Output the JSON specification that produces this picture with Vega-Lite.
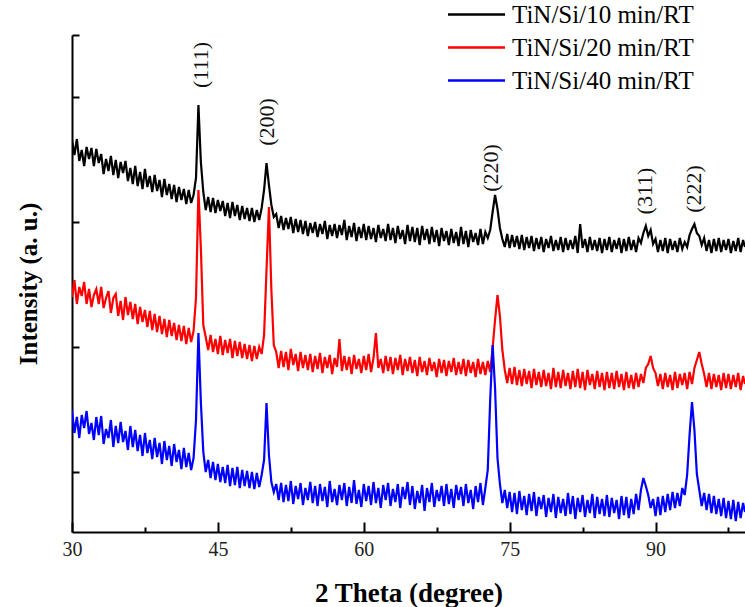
{
  "$schema": "https://vega.github.io/schema/vega-lite/v6.json",
  "width": 673,
  "height": 497,
  "autosize": {"type": "none"},
  "padding": {"left": 72, "top": 35, "right": 0, "bottom": 75},
  "background": "white",
  "config": {"view": {"stroke": null}, "font": "Liberation Serif"},
  "datasets": {
    "xrd": [
      {"x":30,"a":390,"b":233,"c":120},{"x":30.25,"a":375,"b":250,"c":97},{"x":30.5,"a":391,"b":226,"c":113},{"x":30.75,"a":369,"b":243,"c":92},
      {"x":31,"a":380,"b":234,"c":115},{"x":31.25,"a":364,"b":248,"c":102},{"x":31.5,"a":383,"b":226,"c":119},{"x":31.75,"a":371,"b":241,"c":96},
      {"x":32,"a":382,"b":223,"c":107},{"x":32.25,"a":364,"b":235,"c":90},{"x":32.5,"a":381,"b":241,"c":113},{"x":32.75,"a":367,"b":226,"c":95},
      {"x":33,"a":376,"b":243,"c":114},{"x":33.25,"a":356,"b":222,"c":86},{"x":33.5,"a":371,"b":232,"c":101},{"x":33.75,"a":359,"b":239,"c":92},
      {"x":34,"a":374,"b":217,"c":110},{"x":34.25,"a":355,"b":232,"c":83},{"x":34.5,"a":370,"b":236,"c":104},{"x":34.75,"a":352,"b":214,"c":87},
      {"x":35,"a":368,"b":229,"c":108},{"x":35.25,"a":357,"b":210,"c":88},{"x":35.5,"a":369,"b":233,"c":99},{"x":35.75,"a":349,"b":215,"c":80},
      {"x":36,"a":362,"b":228,"c":104},{"x":36.25,"a":346,"b":211,"c":83},{"x":36.5,"a":364,"b":226,"c":100},{"x":36.75,"a":344,"b":206,"c":79},
      {"x":37,"a":358,"b":223,"c":95},{"x":37.25,"a":341,"b":208,"c":74},{"x":37.5,"a":361,"b":220,"c":97},{"x":37.75,"a":343,"b":203,"c":77},
      {"x":38,"a":354,"b":219,"c":90},{"x":38.25,"a":338,"b":200,"c":71},{"x":38.5,"a":355,"b":216,"c":92},{"x":38.75,"a":339,"b":198,"c":73},
      {"x":39,"a":350,"b":214,"c":87},{"x":39.25,"a":333,"b":196,"c":66},{"x":39.5,"a":351,"b":211,"c":89},{"x":39.75,"a":335,"b":193,"c":70},
      {"x":40,"a":346,"b":210,"c":84},{"x":40.25,"a":331,"b":194,"c":64},{"x":40.5,"a":345,"b":207,"c":86},{"x":40.75,"a":328,"b":190,"c":68},
      {"x":41,"a":343,"b":205,"c":80},{"x":41.25,"a":330,"b":189,"c":61},{"x":41.5,"a":341,"b":204,"c":82},{"x":41.75,"a":326,"b":186,"c":63},
      {"x":42,"a":340,"b":202,"c":77},{"x":42.25,"a":327,"b":188,"c":60},{"x":42.5,"a":335,"b":199,"c":72},{"x":42.75,"a":352,"b":232,"c":110},
      {"x":43,"a":425,"b":340,"c":197},{"x":43.25,"a":368,"b":282,"c":128},{"x":43.5,"a":338,"b":205,"c":78},{"x":43.75,"a":320,"b":193,"c":58},
      {"x":44,"a":333,"b":180,"c":70},{"x":44.25,"a":318,"b":195,"c":52},{"x":44.5,"a":332,"b":178,"c":68},{"x":44.75,"a":317,"b":191,"c":50},
      {"x":45,"a":330,"b":176,"c":66},{"x":45.25,"a":319,"b":194,"c":48},{"x":45.5,"a":329,"b":175,"c":63},{"x":45.75,"a":314,"b":190,"c":47},
      {"x":46,"a":327,"b":177,"c":65},{"x":46.25,"a":312,"b":191,"c":44},{"x":46.5,"a":328,"b":172,"c":62},{"x":46.75,"a":314,"b":189,"c":45},
      {"x":47,"a":325,"b":174,"c":63},{"x":47.25,"a":310,"b":188,"c":42},{"x":47.5,"a":324,"b":172,"c":60},{"x":47.75,"a":311,"b":186,"c":44},
      {"x":48,"a":322,"b":171,"c":59},{"x":48.25,"a":309,"b":185,"c":42},{"x":48.5,"a":322,"b":169,"c":58},{"x":48.75,"a":308,"b":184,"c":41},
      {"x":49,"a":320,"b":171,"c":57},{"x":49.25,"a":310,"b":183,"c":43},{"x":49.5,"a":322,"b":176,"c":55},{"x":49.75,"a":340,"b":195,"c":70},
      {"x":50,"a":367,"b":260,"c":127},{"x":50.25,"a":345,"b":323,"c":75},{"x":50.5,"a":325,"b":240,"c":48},{"x":50.75,"a":313,"b":185,"c":38},
      {"x":51,"a":316,"b":178,"c":46},{"x":51.25,"a":302,"b":162,"c":30},{"x":51.5,"a":314,"b":179,"c":47},{"x":51.75,"a":300,"b":163,"c":28},
      {"x":52,"a":312,"b":178,"c":45},{"x":52.25,"a":301,"b":160,"c":29},{"x":52.5,"a":313,"b":181,"c":49},{"x":52.75,"a":297,"b":165,"c":26},
      {"x":53,"a":311,"b":176,"c":44},{"x":53.25,"a":298,"b":159,"c":31},{"x":53.5,"a":310,"b":178,"c":47},{"x":53.75,"a":296,"b":162,"c":25},
      {"x":54,"a":309,"b":175,"c":42},{"x":54.25,"a":294,"b":160,"c":30},{"x":54.5,"a":307,"b":176,"c":48},{"x":54.75,"a":297,"b":158,"c":27},
      {"x":55,"a":308,"b":174,"c":44},{"x":55.25,"a":293,"b":161,"c":24},{"x":55.5,"a":306,"b":177,"c":46},{"x":55.75,"a":296,"b":157,"c":29},
      {"x":56,"a":309,"b":173,"c":43},{"x":56.25,"a":291,"b":162,"c":23},{"x":56.5,"a":305,"b":175,"c":49},{"x":56.75,"a":294,"b":156,"c":28},
      {"x":57,"a":306,"b":172,"c":41},{"x":57.25,"a":292,"b":163,"c":25},{"x":57.5,"a":305,"b":191,"c":45},{"x":57.75,"a":295,"b":159,"c":30},
      {"x":58,"a":310,"b":174,"c":47},{"x":58.25,"a":290,"b":160,"c":24},{"x":58.5,"a":304,"b":173,"c":43},{"x":58.75,"a":293,"b":156,"c":27},
      {"x":59,"a":307,"b":175,"c":50},{"x":59.25,"a":289,"b":161,"c":26},{"x":59.5,"a":303,"b":171,"c":40},{"x":59.75,"a":292,"b":157,"c":23},
      {"x":60,"a":306,"b":174,"c":46},{"x":60.25,"a":290,"b":160,"c":29},{"x":60.5,"a":304,"b":176,"c":44},{"x":60.75,"a":291,"b":158,"c":25},
      {"x":61,"a":302,"b":172,"c":48},{"x":61.25,"a":288,"b":197,"c":27},{"x":61.5,"a":305,"b":162,"c":42},{"x":61.75,"a":292,"b":171,"c":22},
      {"x":62,"a":301,"b":157,"c":45},{"x":62.25,"a":289,"b":174,"c":30},{"x":62.5,"a":306,"b":159,"c":47},{"x":62.75,"a":290,"b":173,"c":24},
      {"x":63,"a":302,"b":156,"c":41},{"x":63.25,"a":287,"b":172,"c":28},{"x":63.5,"a":304,"b":160,"c":46},{"x":63.75,"a":291,"b":175,"c":22},
      {"x":64,"a":300,"b":155,"c":43},{"x":64.25,"a":286,"b":171,"c":31},{"x":64.5,"a":305,"b":159,"c":48},{"x":64.75,"a":289,"b":173,"c":25},
      {"x":65,"a":303,"b":157,"c":44},{"x":65.25,"a":288,"b":170,"c":21},{"x":65.5,"a":302,"b":154,"c":39},{"x":65.75,"a":285,"b":173,"c":27},
      {"x":66,"a":304,"b":158,"c":45},{"x":66.25,"a":290,"b":169,"c":19},{"x":66.5,"a":301,"b":155,"c":42},{"x":66.75,"a":286,"b":172,"c":28},
      {"x":67,"a":303,"b":159,"c":47},{"x":67.25,"a":288,"b":168,"c":23},{"x":67.5,"a":300,"b":153,"c":40},{"x":67.75,"a":284,"b":171,"c":29},
      {"x":68,"a":302,"b":157,"c":44},{"x":68.25,"a":289,"b":170,"c":24},{"x":68.5,"a":299,"b":154,"c":46},{"x":68.75,"a":285,"b":169,"c":26},
      {"x":69,"a":301,"b":158,"c":41},{"x":69.25,"a":287,"b":172,"c":22},{"x":69.5,"a":298,"b":155,"c":45},{"x":69.75,"a":284,"b":168,"c":30},
      {"x":70,"a":303,"b":156,"c":43},{"x":70.25,"a":286,"b":171,"c":24},{"x":70.5,"a":299,"b":154,"c":46},{"x":70.75,"a":283,"b":170,"c":27},
      {"x":71,"a":300,"b":157,"c":40},{"x":71.25,"a":288,"b":168,"c":21},{"x":71.5,"a":297,"b":153,"c":44},{"x":71.75,"a":285,"b":171,"c":28},
      {"x":72,"a":301,"b":156,"c":47},{"x":72.25,"a":286,"b":168,"c":25},{"x":72.5,"a":298,"b":155,"c":42},{"x":72.75,"a":292,"b":169,"c":60},
      {"x":73,"a":300,"b":158,"c":130},{"x":73.25,"a":318,"b":182,"c":185},{"x":73.5,"a":335,"b":210,"c":142},{"x":73.75,"a":321,"b":235,"c":72},
      {"x":74,"a":302,"b":214,"c":46},{"x":74.25,"a":291,"b":180,"c":27},{"x":74.5,"a":283,"b":160,"c":40},{"x":74.75,"a":296,"b":147,"c":22},
      {"x":75,"a":282,"b":162,"c":38},{"x":75.25,"a":295,"b":146,"c":18},{"x":75.5,"a":283,"b":163,"c":37},{"x":75.75,"a":294,"b":145,"c":16},
      {"x":76,"a":281,"b":160,"c":39},{"x":76.25,"a":295,"b":144,"c":20},{"x":76.5,"a":280,"b":161,"c":34},{"x":76.75,"a":293,"b":146,"c":15},
      {"x":77,"a":282,"b":159,"c":36},{"x":77.25,"a":294,"b":142,"c":19},{"x":77.5,"a":279,"b":161,"c":38},{"x":77.75,"a":292,"b":145,"c":14},
      {"x":78,"a":281,"b":158,"c":33},{"x":78.25,"a":293,"b":143,"c":21},{"x":78.5,"a":278,"b":160,"c":35},{"x":78.75,"a":291,"b":144,"c":13},
      {"x":79,"a":282,"b":157,"c":32},{"x":79.25,"a":294,"b":141,"c":18},{"x":79.5,"a":279,"b":162,"c":36},{"x":79.75,"a":290,"b":143,"c":12},
      {"x":80,"a":280,"b":158,"c":33},{"x":80.25,"a":293,"b":142,"c":17},{"x":80.5,"a":278,"b":160,"c":31},{"x":80.75,"a":292,"b":144,"c":14},
      {"x":81,"a":280,"b":157,"c":37},{"x":81.25,"a":290,"b":141,"c":16},{"x":81.5,"a":281,"b":159,"c":34},{"x":81.75,"a":294,"b":143,"c":11},
      {"x":82,"a":277,"b":161,"c":32},{"x":82.25,"a":306,"b":142,"c":18},{"x":82.5,"a":282,"b":158,"c":35},{"x":82.75,"a":291,"b":140,"c":13},
      {"x":83,"a":278,"b":160,"c":30},{"x":83.25,"a":293,"b":145,"c":17},{"x":83.5,"a":280,"b":156,"c":36},{"x":83.75,"a":290,"b":141,"c":12},
      {"x":84,"a":279,"b":159,"c":33},{"x":84.25,"a":292,"b":143,"c":16},{"x":84.5,"a":277,"b":157,"c":31},{"x":84.75,"a":291,"b":140,"c":14},
      {"x":85,"a":280,"b":158,"c":35},{"x":85.25,"a":293,"b":142,"c":13},{"x":85.5,"a":278,"b":157,"c":32},{"x":85.75,"a":290,"b":141,"c":17},
      {"x":86,"a":281,"b":159,"c":30},{"x":86.25,"a":292,"b":143,"c":11},{"x":86.5,"a":277,"b":156,"c":34},{"x":86.75,"a":291,"b":140,"c":15},
      {"x":87,"a":279,"b":158,"c":33},{"x":87.25,"a":293,"b":142,"c":12},{"x":87.5,"a":280,"b":155,"c":31},{"x":87.75,"a":290,"b":141,"c":16},
      {"x":88,"a":278,"b":157,"c":36},{"x":88.25,"a":292,"b":143,"c":20},{"x":88.5,"a":287,"b":156,"c":40},{"x":88.75,"a":297,"b":147,"c":52},
      {"x":89,"a":304,"b":162,"c":44},{"x":89.25,"a":294,"b":166,"c":35},{"x":89.5,"a":300,"b":174,"c":22},{"x":89.75,"a":286,"b":162,"c":31},
      {"x":90,"a":291,"b":157,"c":14},{"x":90.25,"a":278,"b":144,"c":33},{"x":90.5,"a":290,"b":156,"c":15},{"x":90.75,"a":279,"b":141,"c":34},
      {"x":91,"a":292,"b":157,"c":18},{"x":91.25,"a":277,"b":143,"c":36},{"x":91.5,"a":291,"b":155,"c":20},{"x":91.75,"a":280,"b":140,"c":38},
      {"x":92,"a":289,"b":158,"c":22},{"x":92.25,"a":278,"b":142,"c":37},{"x":92.5,"a":292,"b":156,"c":24},{"x":92.75,"a":281,"b":145,"c":42},
      {"x":93,"a":288,"b":157,"c":35},{"x":93.25,"a":283,"b":141,"c":55},{"x":93.5,"a":295,"b":158,"c":95},{"x":93.75,"a":301,"b":146,"c":128},
      {"x":94,"a":306,"b":162,"c":100},{"x":94.25,"a":297,"b":170,"c":56},{"x":94.5,"a":294,"b":178,"c":40},{"x":94.75,"a":285,"b":166,"c":24},
      {"x":95,"a":292,"b":156,"c":37},{"x":95.25,"a":279,"b":143,"c":20},{"x":95.5,"a":290,"b":157,"c":36},{"x":95.75,"a":277,"b":141,"c":17},
      {"x":96,"a":291,"b":156,"c":34},{"x":96.25,"a":279,"b":143,"c":16},{"x":96.5,"a":292,"b":155,"c":31},{"x":96.75,"a":278,"b":140,"c":14},
      {"x":97,"a":290,"b":157,"c":32},{"x":97.25,"a":280,"b":142,"c":12},{"x":97.5,"a":291,"b":156,"c":29},{"x":97.75,"a":277,"b":141,"c":11},
      {"x":98,"a":289,"b":155,"c":30},{"x":98.25,"a":279,"b":143,"c":9},{"x":98.5,"a":292,"b":157,"c":28},{"x":98.75,"a":278,"b":140,"c":12},
      {"x":99,"a":290,"b":154,"c":27},{"x":99.2,"a":283,"b":146,"c":18}
    ],
    "labels": [
      {"x":43.3,"y":465,"t":"(111)"},
      {"x":50.0,"y":408,"t":"(200)"},
      {"x":73.1,"y":362,"t":"(220)"},
      {"x":88.9,"y":339,"t":"(311)"},
      {"x":94.0,"y":341,"t":"(222)"}
    ]
  },
  "layer": [
    {
      "data": {"name": "xrd"},
      "transform": [{"fold": ["a", "b", "c"], "as": ["s", "v"]}],
      "mark": {"type": "line", "strokeWidth": 2.2, "strokeJoin": "miter", "clip": true},
      "encoding": {
        "x": {
          "field": "x", "type": "quantitative",
          "scale": {"domain": [30, 99.2], "nice": false, "zero": false},
          "axis": {
            "values": [30, 37.5, 45, 52.5, 60, 67.5, 75, 82.5, 90, 97.5],
            "labelExpr": "datum.value % 15 == 0 ? datum.label : ''",
            "tickSize": {"condition": {"test": "datum.value % 15 == 0", "value": -10}, "value": -5},
            "tickWidth": 2, "tickColor": "#000",
            "domainColor": "#000", "domainWidth": 2,
            "grid": false,
            "labelFont": "Liberation Serif", "labelFontSize": 20, "labelColor": "#222",
            "labelPadding": 17, "labelFlush": false, "labelOverlap": false, "labelBound": false,
            "title": "2 Theta (degree)",
            "titleFont": "Liberation Serif", "titleFontSize": 27, "titleFontWeight": "bold", "titleColor": "#000",
            "titlePadding": 16
          }
        },
        "y": {
          "field": "v", "type": "quantitative",
          "scale": {"domain": [-2, 495], "nice": false, "zero": false},
          "axis": {
            "values": [58, 183, 308, 433, 495],
            "labels": false,
            "tickSize": -7, "tickWidth": 2, "tickColor": "#000",
            "domainColor": "#000", "domainWidth": 2,
            "grid": false,
            "title": "Intensity (a. u.)",
            "titleFont": "Liberation Serif", "titleFontSize": 25, "titleFontWeight": "bold", "titleColor": "#000",
            "titlePadding": 30
          }
        },
        "color": {
          "field": "s", "type": "nominal",
          "scale": {"domain": ["a", "b", "c"], "range": ["#000000", "#ff0000", "#0000ff"]},
          "legend": {
            "orient": "none", "legendX": 392, "legendY": -33,
            "title": null, "padding": 0,
            "symbolType": "M-5,0H5", "symbolSize": 130, "symbolStrokeWidth": 2.5,
            "labelFont": "Liberation Serif", "labelFontSize": 25, "labelColor": "#000",
            "labelOffset": 23, "rowPadding": 7, "labelLimit": 0,
            "labelExpr": "datum.label == 'a' ? 'TiN/Si/10 min/RT' : datum.label == 'b' ? 'TiN/Si/20 min/RT' : 'TiN/Si/40 min/RT'"
          }
        }
      }
    },
    {
      "data": {"name": "labels"},
      "mark": {"type": "text", "angle": 270, "align": "center", "baseline": "middle", "font": "Liberation Serif", "fontSize": 22, "color": "#111"},
      "encoding": {
        "x": {"field": "x", "type": "quantitative"},
        "y": {"field": "y", "type": "quantitative"},
        "text": {"field": "t"}
      }
    }
  ]
}
